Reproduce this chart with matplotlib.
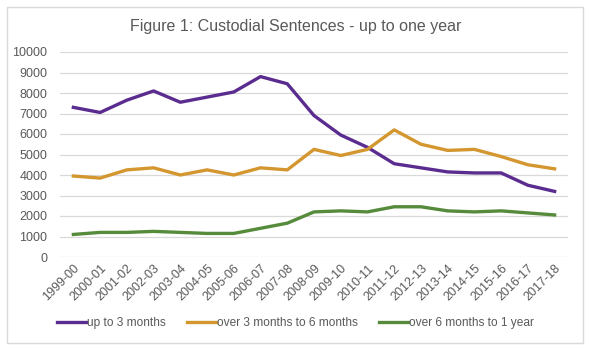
import matplotlib
matplotlib.use("Agg")
from matplotlib import pyplot as plt
from matplotlib.patches import Rectangle

years = ["1999-00", "2000-01", "2001-02", "2002-03", "2003-04", "2004-05",
         "2005-06", "2006-07", "2007-08", "2008-09", "2009-10", "2010-11",
         "2011-12", "2012-13", "2013-14", "2014-15", "2015-16", "2016-17",
         "2017-18"]
up_to_3 = [7300, 7050, 7650, 8100, 7550, 7800, 8050, 8800, 8450, 6900,
           5950, 5350, 4550, 4350, 4150, 4100, 4100, 3500, 3200]
over_3_to_6 = [3950, 3850, 4250, 4350, 4000, 4250, 4000, 4350, 4250, 5250,
               4950, 5250, 6200, 5500, 5200, 5250, 4900, 4500, 4300]
over_6_to_12 = [1100, 1200, 1200, 1250, 1200, 1150, 1150, 1400, 1650, 2200,
                2250, 2200, 2450, 2450, 2250, 2200, 2250, 2150, 2050]

plt.rcParams['font.family'] = ['Liberation Sans', 'DejaVu Sans']

fig = plt.figure(figsize=[5.91, 3.5], dpi=100)
fig.patches.append(Rectangle((7 / 591, 1 - 343 / 350), 576 / 591, 336 / 350,
                             transform=fig.transFigure, fill=False,
                             edgecolor="#d9d9d9", linewidth=1))
ax = fig.add_axes([60 / 591, 1 - 257 / 350, 508 / 591, 205 / 350])

x = range(len(years))
ax.plot(x, up_to_3, color="#5b2c8f", linewidth=2.4, label="up to 3 months")
ax.plot(x, over_3_to_6, color="#d4962f", linewidth=2.4,
        label="over 3 months to 6 months")
ax.plot(x, over_6_to_12, color="#558b3a", linewidth=2.4,
        label="over 6 months to 1 year")

ax.set_xlim(-0.5, len(years) - 0.5)
ax.set_ylim(0, 10000)
ax.set_yticks(range(0, 10001, 1000))
ax.set_xticks(list(x))
ax.set_xticklabels(years, rotation=45, ha="right", rotation_mode="anchor")
ax.grid(axis="y", color="#d9d9d9", linewidth=0.9)
ax.set_axisbelow(True)
for s in ax.spines.values():
    s.set_visible(False)
ax.tick_params(length=0, labelsize=9, colors="#595959")
ax.tick_params(axis="y", pad=9)
ax.tick_params(axis="x", pad=4)

fig.text(0.5, 1 - 27 / 350, "Figure 1: Custodial Sentences - up to one year",
         ha="center", va="center", fontsize=11.5, color="#595959")

fig.legend(loc="center", bbox_to_anchor=(0.5, 1 - 323 / 350), ncol=3,
           frameon=False, fontsize=8.6, handlelength=2.4, handletextpad=0.1,
           columnspacing=1.8, labelcolor="#595959")

plt.savefig("out.png", dpi=100)
